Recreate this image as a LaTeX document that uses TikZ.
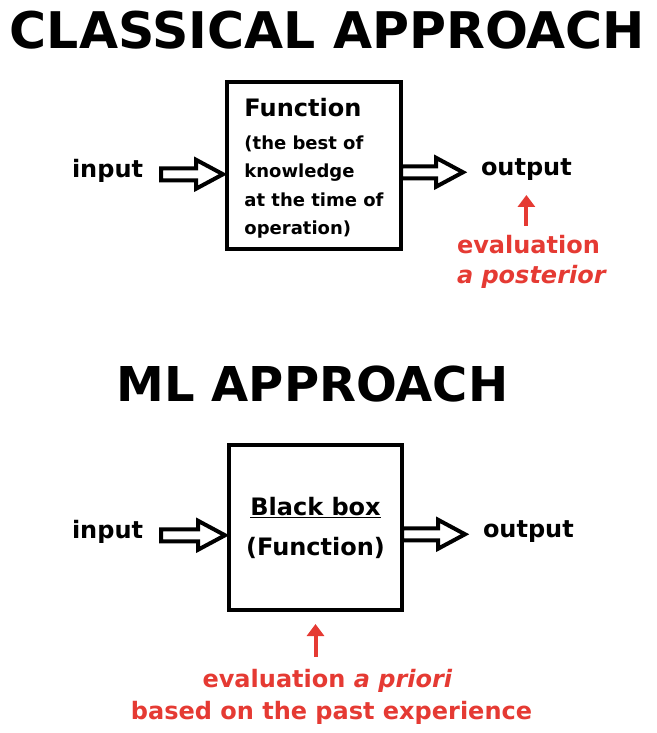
\documentclass[tikz,border=0pt]{standalone}
\usepackage{fontspec}
\setmainfont{DejaVu Sans}
\usetikzlibrary{calc,arrows.meta}
\definecolor{evred}{HTML}{E53A33}
\tikzset{
  titletext/.style={font=\fontsize{50.5}{60}\selectfont\bfseries, inner sep=0pt, anchor=base},
  lbl/.style={font=\fontsize{24}{30}\selectfont\bfseries, inner sep=0pt, outer sep=0pt},
  fbox/.style={draw, line width=4pt, inner sep=0pt, outer sep=0pt},
  blockarrow/.style={draw, line width=4pt, fill=white, line join=miter},
  redtext/.style={text=evred, font=\fontsize{24}{30}\selectfont\bfseries, inner sep=0pt, outer sep=0pt},
  redarrow/.style={draw=evred, line width=4pt, -{Triangle[length=12pt,width=17pt]}},
}
% block arrow from tail (#1) to tip (#2), drawn at the tip's height
\newcommand\blockarr[2]{%
  \draw[blockarrow] let \p1=(#1), \p2=(#2) in
   (\x1,\y2+6pt) -- (\x2-31pt,\y2+6pt) -- (\x2-31pt,\y2+14.5pt) -- (\x2-4pt,\y2)
   -- (\x2-31pt,\y2-14.5pt) -- (\x2-31pt,\y2-6pt) -- (\x1,\y2-6pt) -- cycle;}
\begin{document}
\begin{tikzpicture}[x=1pt,y=-1pt]
\useasboundingbox (0,0) rectangle (656,733);

% ---------- classical approach ----------
\node[titletext] (t1) at (327.5,49) {CLASSICAL APPROACH};

\node[fbox, anchor=north west, minimum width=174pt, minimum height=167pt, align=left,
      font=\fontsize{18}{28.5}\selectfont\bfseries] (f1) at (227,82)
  {{\fontsize{24}{28.5}\selectfont\rule{0pt}{24pt}Function}\\[4.5pt]
   (the best of\\ knowledge\\ at the time of\\ operation)};

\node[lbl, anchor=base west] (in1) at (72,177) {input};
\node[lbl, anchor=base west] (out1) at (481,175) {output};

\blockarr{$(in1.mid east)+(18pt,0)$}{f1.west |- in1.mid}
\blockarr{f1.east |- out1.mid}{$(out1.mid west)+(-14pt,0)$}

\node[redtext, anchor=base west] (ev1a) at (457,253) {evaluation};
\node[redtext, anchor=base west] (ev1b) at (457,283) {\itshape a posterior};
\draw[redarrow] ([yshift=9pt]ev1a.north -| out1.south) -- ([yshift=-15pt]out1.south);

% ---------- ML approach ----------
\node[titletext, font=\fontsize{48}{58}\selectfont\bfseries] (t2) at (312.5,401) {ML APPROACH};

\node[fbox, minimum width=173pt, minimum height=165pt, align=center,
      font=\fontsize{24}{40}\selectfont\bfseries] (f2) at (315.5,527.5)
  {\underline{Black box}\\ (Function)};

\node[lbl, anchor=base west] (in2) at (72,538) {input};
\node[lbl, anchor=base west] (out2) at (483,537) {output};

\blockarr{$(in2.mid east)+(18pt,0)$}{f2.west |- in2.mid}
\blockarr{f2.east |- out2.mid}{$(out2.mid west)+(-14pt,0)$}

\node[redtext, anchor=base] (ev2a) at (327.5,687) {evaluation \textit{a priori}};
\node[redtext, anchor=base] (ev2b) at (331.5,719) {based on the past experience};
\draw[redarrow] ([yshift=12pt]ev2a.north -| f2.south) -- ([yshift=-14pt]f2.south);
\end{tikzpicture}
\end{document}
